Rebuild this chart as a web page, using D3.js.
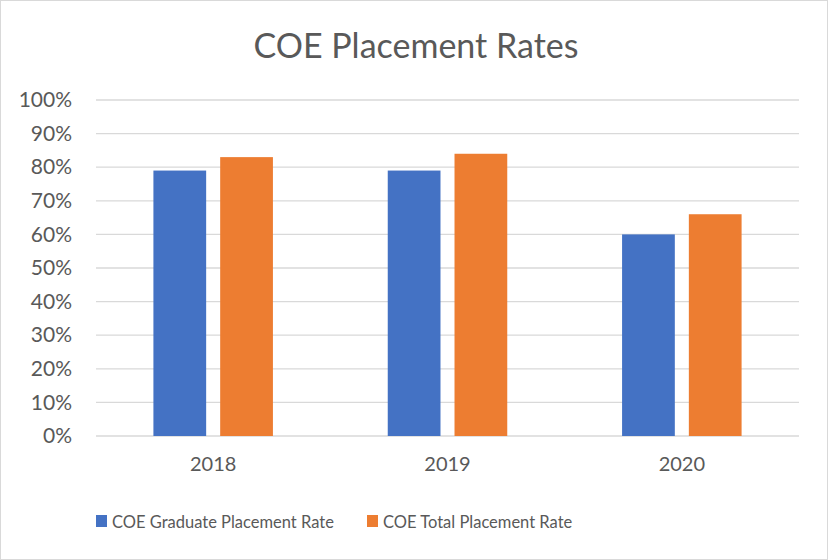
<!DOCTYPE html>
<html>
<head>
<meta charset="utf-8">
<script src="https://cdn.jsdelivr.net/npm/d3@7"></script>
<style>
  body { margin: 0; background: #fff; }
  text { font-family: Lato, "Open Sans", sans-serif; fill: #595959; }
</style>
</head>
<body>
<div id="chart"></div>
<script>
let width = 828,
  height = 560;

// data
let years = ["2018", "2019", "2020"];
let seriesNames = ["COE Graduate Placement Rate", "COE Total Placement Rate"];
let graduateRate = [0.79, 0.79, 0.60];
let totalRate = [0.83, 0.84, 0.66];
let yTicks = [0, 0.1, 0.2, 0.3, 0.4, 0.5, 0.6, 0.7, 0.8, 0.9, 1.0];
let seriesColors = ["#4472C4", "#ED7D31"];

let data = years.map((y, i) => ({ year: y, values: [graduateRate[i], totalRate[i]] }));

let margin = { top: 100, right: 29, bottom: 124, left: 96 };

let svg = d3.select("#chart")
  .append("svg")
  .attr("width", width)
  .attr("height", height);

// chart border
svg.append("rect")
  .attr("x", 0.5).attr("y", 0.5)
  .attr("width", width - 1).attr("height", height - 1)
  .attr("fill", "#fff")
  .attr("stroke", "#D9D9D9");

let x = d3.scaleBand()
  .domain(years)
  .range([margin.left, width - margin.right])
  .paddingInner(0.49)
  .paddingOuter(0.245);

let xInner = d3.scaleBand()
  .domain([0, 1])
  .range([0, x.bandwidth()])
  .paddingInner(0.21);

let y = d3.scaleLinear()
  .domain([0, 1])
  .range([height - margin.bottom, margin.top]);

// gridlines
svg.append("g")
  .selectAll("line")
  .data(yTicks)
  .join("line")
  .attr("x1", margin.left)
  .attr("x2", width - margin.right)
  .attr("y1", d => y(d))
  .attr("y2", d => y(d))
  .attr("stroke", "#D9D9D9")
  .attr("stroke-width", 1.3);

// y labels
let yAxis = d3.axisLeft(y)
  .tickValues(yTicks)
  .tickFormat(d3.format(".0%"))
  .tickSize(0)
  .tickPadding(24);

let yg = svg.append("g")
  .attr("transform", `translate(${margin.left},0)`)
  .call(yAxis);
yg.select(".domain").remove();
yg.selectAll("text")
  .attr("font-size", 21)
  .attr("font-family", "Lato, sans-serif")
  .attr("fill", "#595959");

// bars
let groups = svg.append("g")
  .selectAll("g")
  .data(data)
  .join("g")
  .attr("transform", d => `translate(${x(d.year)},0)`);

groups.selectAll("rect")
  .data(d => d.values.map((v, i) => ({ v: v, i: i })))
  .join("rect")
  .attr("x", d => xInner(d.i))
  .attr("width", xInner.bandwidth())
  .attr("y", d => y(d.v))
  .attr("height", d => y(0) - y(d.v))
  .attr("fill", d => seriesColors[d.i]);

// x labels
let xAxis = d3.axisBottom(x).tickSize(0).tickPadding(21);
let xg = svg.append("g")
  .attr("transform", `translate(0,${height - margin.bottom})`)
  .call(xAxis);
xg.select(".domain").remove();
xg.selectAll("text")
  .attr("font-size", 20)
  .attr("font-family", "Lato, sans-serif")
  .attr("fill", "#595959");

// title
svg.append("text")
  .attr("x", 416)
  .attr("y", 58)
  .attr("text-anchor", "middle")
  .attr("font-size", 34)
  .text("COE Placement Rates");

// legend
let legendX = [96, 367];
let legend = svg.append("g")
  .selectAll("g")
  .data(seriesNames)
  .join("g")
  .attr("transform", (d, i) => `translate(${legendX[i]},515)`);

legend.append("rect")
  .attr("width", 11)
  .attr("height", 12)
  .attr("fill", (d, i) => seriesColors[i]);

legend.append("text")
  .attr("x", 16)
  .attr("y", 12.5)
  .attr("font-size", 16.5)
  .text(d => d);
</script>
</body>
</html>
